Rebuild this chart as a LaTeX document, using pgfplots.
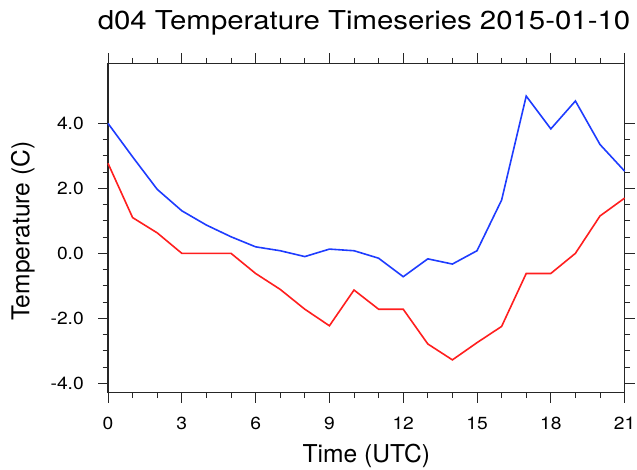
\documentclass[border=0pt]{standalone}
\usepackage{pgfplots}
\pgfplotsset{compat=1.18}
\usepackage{fontspec}
\setmainfont{TeX Gyre Heros}
\newfontfamily\titlefont[FakeStretch=1.13]{TeX Gyre Heros}
\newfontfamily\tickfont[FakeStretch=1.1]{TeX Gyre Heros}
\definecolor{nclblue}{RGB}{30,60,255}
\definecolor{nclred}{RGB}{255,30,30}
\begin{document}
\begin{tikzpicture}[x=1bp,y=1bp]
\path[use as bounding box] (0,0) rectangle (637,470);
\begin{axis}[
  at={(108bp,77.3bp)}, anchor=south west,
  scale only axis, width=516.6bp, height=329.4bp,
  xmin=0, xmax=21, ymin=-4.29, ymax=5.85,
  xtick={0,3,...,21}, minor x tick num=2,
  ytick={-4,-2,0,2,4}, minor y tick num=3,
  tick align=outside,
  major tick length=10bp, minor tick length=5.5bp,
  every tick/.style={line width=1bp, black!85},
  axis line style={line width=1.4bp, black!85},
  /pgf/number format/assume math mode=true,
  tick label style={font=\tickfont\fontsize{17.5bp}{18bp}\selectfont, inner sep=0pt},
  xticklabel style={anchor=base, yshift=-27bp},
  yticklabel style={anchor=east, xshift=-14bp, /pgf/number format/.cd, fixed, fixed zerofill, precision=1},
  label style={font=\fontsize{24.6bp}{26bp}\selectfont},
  xlabel={Time (UTC)},
  xlabel style={at={(axis description cs:0.5,0)}, anchor=base, yshift=-70bp, inner sep=0pt},
  ylabel={Temperature (C)},
  ylabel style={at={(axis description cs:-0.1523,0.49)}, anchor=base, inner sep=0pt},
  clip=false,
]
\addplot[color=nclblue, line width=1.6bp] coordinates {
(0,4.0) (1,2.97) (2,1.97) (3,1.31) (4,0.87) (5,0.51) (6,0.20) (7,0.08)
(8,-0.10) (9,0.13) (10,0.08) (11,-0.15) (12,-0.72) (13,-0.17) (14,-0.33)
(15,0.08) (16,1.64) (17,4.84) (18,3.83) (19,4.69) (20,3.35) (21,2.53)
};
\addplot[color=nclred, line width=1.6bp] coordinates {
(0,2.77) (1,1.10) (2,0.63) (3,0.0) (4,0.0) (5,0.0) (6,-0.62) (7,-1.11)
(8,-1.72) (9,-2.23) (10,-1.13) (11,-1.72) (12,-1.72) (13,-2.79) (14,-3.28)
(15,-2.75) (16,-2.25) (17,-0.62) (18,-0.62) (19,0.0) (20,1.15) (21,1.70)
};
\end{axis}
\node[anchor=base, inner sep=0pt, font=\titlefont\fontsize{26bp}{28bp}\selectfont] at (364,440.7) {d04 Temperature Timeseries 2015-01-10};
\end{tikzpicture}
\end{document}
